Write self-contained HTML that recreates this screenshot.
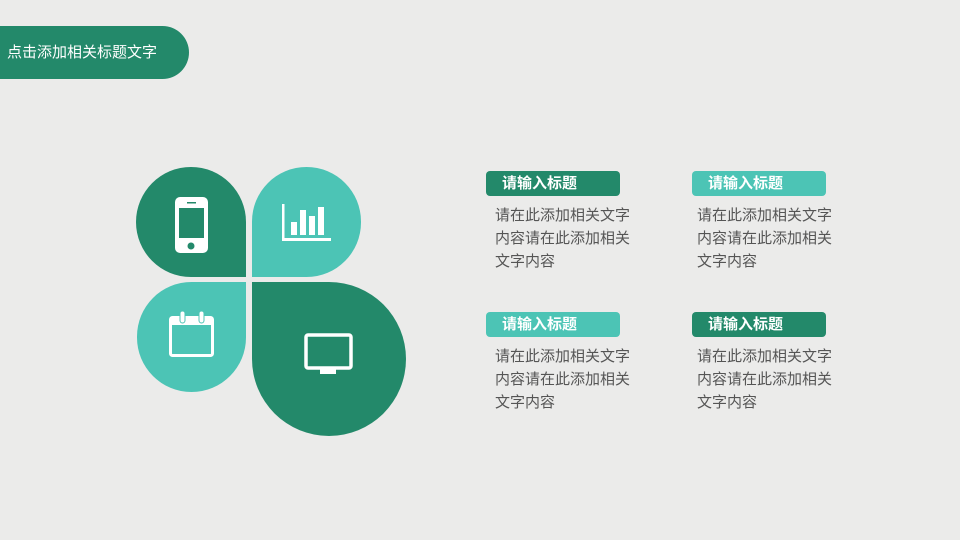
<!DOCTYPE html>
<html><head><meta charset="utf-8"><style>
body{margin:0;width:960px;height:540px;background:#ebebea;position:relative;overflow:hidden;font-family:"Liberation Sans","Noto Sans CJK SC",sans-serif}
.a{position:absolute}
.hd{left:0;top:26px;width:189px;height:53px;background:#23896a;border-radius:0 27px 27px 0;color:#fff;font-size:15px;line-height:53px;padding-left:7px;box-sizing:border-box}
.dk{background:#23896a}.lt{background:#4cc4b5}
.lab{height:25px;width:134px;border-radius:4px;color:#fff;font-weight:bold;font-size:15px;line-height:25px;padding-left:16px;box-sizing:border-box}
.tx{font-size:15px;color:#555;line-height:23px;width:140px}
</style></head><body>
<div class="a hd">点击添加相关标题文字</div>
<div class="a dk" style="left:136px;top:167px;width:110px;height:110px;border-radius:55px 55px 0 55px"></div>
<div class="a lt" style="left:252px;top:167px;width:109px;height:110px;border-radius:55px 55px 55px 0"></div>
<div class="a lt" style="left:137px;top:282px;width:109px;height:110px;border-radius:55px 0 55px 55px"></div>
<div class="a dk" style="left:252px;top:282px;width:154px;height:154px;border-radius:0 77px 77px 77px"></div>
<svg class="a" style="left:0;top:0" width="960" height="540">
<g fill="#fff">
<rect x="175" y="197" width="33" height="56" rx="5"/>
</g>
<rect x="179" y="208" width="25" height="30" fill="#23896a"/>
<circle cx="191" cy="246" r="3.5" fill="#23896a"/>
<rect x="187" y="202" width="9" height="1.5" fill="#23896a"/>
<g fill="#fff">
<rect x="282" y="204" width="2.5" height="37"/><rect x="282" y="238" width="49" height="3"/>
<rect x="291" y="222" width="6" height="13"/><rect x="300" y="210" width="6" height="25"/>
<rect x="309" y="216" width="6" height="19"/><rect x="318" y="207" width="6" height="28"/>
</g>
<rect x="170.5" y="317.5" width="42" height="38" rx="2" fill="none" stroke="#fff" stroke-width="3"/>
<rect x="170" y="317" width="43" height="8" fill="#fff"/>
<rect x="180" y="311" width="5" height="12" rx="2.5" fill="#fff" stroke="#4cc4b5" stroke-width="1"/>
<rect x="199" y="311" width="5" height="12" rx="2.5" fill="#fff" stroke="#4cc4b5" stroke-width="1"/>
<rect x="306" y="335" width="45" height="33" rx="2" fill="none" stroke="#fff" stroke-width="3.5"/>
<rect x="320" y="368" width="16" height="6" fill="#fff"/>
</svg>
<div class="a lab dk" style="left:486px;top:171px">请输入标题</div>
<div class="a tx" style="left:495px;top:204px">请在此添加相关文字内容请在此添加相关文字内容</div>
<div class="a lab lt" style="left:692px;top:171px">请输入标题</div>
<div class="a tx" style="left:697px;top:204px">请在此添加相关文字内容请在此添加相关文字内容</div>
<div class="a lab lt" style="left:486px;top:312px">请输入标题</div>
<div class="a tx" style="left:495px;top:345px">请在此添加相关文字内容请在此添加相关文字内容</div>
<div class="a lab dk" style="left:692px;top:312px">请输入标题</div>
<div class="a tx" style="left:697px;top:345px">请在此添加相关文字内容请在此添加相关文字内容</div>
</body></html>
